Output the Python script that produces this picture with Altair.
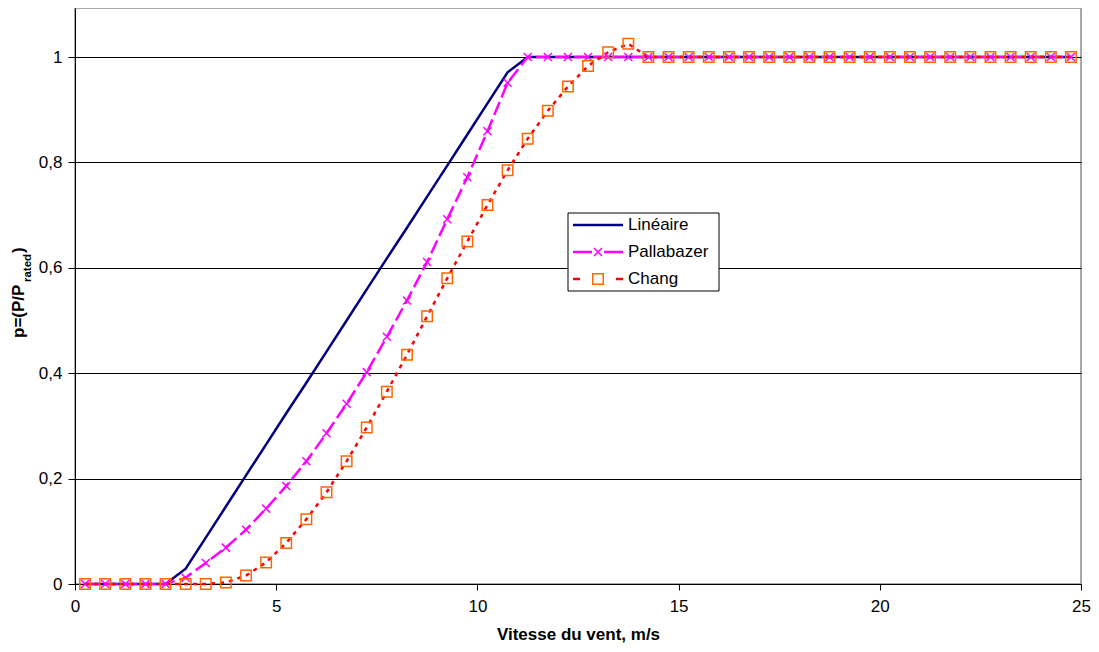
import altair as alt
import pandas as pd

FONT = "Liberation Sans"

# ---------------- data ----------------
wind = [0.25, 0.75, 1.25, 1.75, 2.25, 2.75, 3.25, 3.75, 4.25, 4.75,
        5.25, 5.75, 6.25, 6.75, 7.25, 7.75, 8.25, 8.75, 9.25, 9.75,
        10.25, 10.75, 11.25, 11.75, 12.25, 12.75, 13.25, 13.75, 14.25, 14.75,
        15.25, 15.75, 16.25, 16.75, 17.25, 17.75, 18.25, 18.75, 19.25, 19.75,
        20.25, 20.75, 21.25, 21.75, 22.25, 22.75, 23.25, 23.75, 24.25, 24.75]

lineaire = [0, 0, 0, 0, 0, 0.029, 0.088, 0.147, 0.206, 0.265,
            0.324, 0.382, 0.441, 0.500, 0.559, 0.618, 0.676, 0.735, 0.794, 0.853,
            0.912, 0.971, 1, 1, 1, 1, 1, 1, 1, 1,
            1, 1, 1, 1, 1, 1, 1, 1, 1, 1,
            1, 1, 1, 1, 1, 1, 1, 1, 1, 1]

pallabazer = [0, 0, 0, 0, 0, 0.012, 0.040, 0.069, 0.103, 0.143,
              0.186, 0.233, 0.286, 0.342, 0.402, 0.469, 0.538, 0.611, 0.692, 0.772,
              0.859, 0.951, 1, 1, 1, 1, 1, 1, 1, 1,
              1, 1, 1, 1, 1, 1, 1, 1, 1, 1,
              1, 1, 1, 1, 1, 1, 1, 1, 1, 1]

chang = [0, 0, 0, 0, 0, 0, 0, 0.003, 0.016, 0.041,
         0.078, 0.123, 0.174, 0.233, 0.297, 0.365, 0.435, 0.508, 0.580, 0.650,
         0.719, 0.785, 0.845, 0.898, 0.944, 0.983, 1.009, 1.025, 1, 1,
         1, 1, 1, 1, 1, 1, 1, 1, 1, 1,
         1, 1, 1, 1, 1, 1, 1, 1, 1, 1]

series_names = ["Linéaire", "Pallabazer", "Chang"]
x_ticks = [0, 5, 10, 15, 20, 25]
y_ticks = [0, 0.2, 0.4, 0.6, 0.8, 1]
x_title = "Vitesse du vent, m/s"
y_title_parts = ["p=(P/P", "rated", ")"]

df = pd.DataFrame({
    "v": wind * 3,
    "p": lineaire + pallabazer + chang,
    "s": [n for n in series_names for _ in wind],
})
one = pd.DataFrame({"k": [0]})

NAVY = "#000080"
MAGENTA = "#FF00FF"
RED = "#FF0000"
ORANGE = "#FF6600"

W, H = 1006, 576
PAD_L = 67

xs = alt.Scale(domain=[0, 25], nice=False, zero=False)
ys = alt.Scale(domain=[0, 1.093], nice=False)

base = alt.Chart(df).encode(
    x=alt.X("v:Q", scale=xs, axis=alt.Axis(
        values=x_ticks, title=x_title, grid=False, tickSize=6, labelPadding=8,
        labelFlush=False, labelOverlap=False, titlePadding=12,
        titleFontSize=17, titleFontWeight="bold", labelFontSize=17)),
    y=alt.Y("p:Q", scale=ys, axis=alt.Axis(
        values=y_ticks, title=None, grid=True, gridColor="black", gridWidth=1,
        tickSize=7, labelPadding=6, labelFlush=False, labelOverlap=False,
        labelFontSize=17,
        labelExpr="replace(format(datum.value, '~g'), '.', ',')")),
)

lin_line = base.transform_filter(alt.datum.s == series_names[0]).mark_line(
    color=NAVY, strokeWidth=2.5)
pal_line = base.transform_filter(alt.datum.s == series_names[1]).mark_line(
    color=MAGENTA, strokeWidth=2.5, strokeDash=[14, 5])
chang_line = base.transform_filter(alt.datum.s == series_names[2]).mark_line(
    color=RED, strokeWidth=2.5, strokeDash=[4, 5])
XSHAPE = "M-1,-1L1,1M-1,1L1,-1"
pal_pts = base.transform_filter(alt.datum.s == series_names[1]).mark_point(
    shape=XSHAPE, size=64, color=MAGENTA, filled=False, strokeWidth=1.5, opacity=1)
chang_pts = base.transform_filter(alt.datum.s == series_names[2]).mark_point(
    shape="square", size=110, color=ORANGE, filled=False, strokeWidth=1.5, opacity=1)

# ---------------- legend (manual) ----------------
DX = 77 - 8 - PAD_L  # keep legend at the same page position


def rule(x1, x2, y, color):
    return alt.Chart(one).mark_rule(color=color, strokeWidth=2.5).encode(
        x=alt.value(x1 + DX), x2=alt.value(x2 + DX), y=alt.value(y))


def label(txt, y):
    return alt.Chart(one).mark_text(
        text=txt, align="left", baseline="middle", fontSize=17, font=FONT,
        color="black").encode(x=alt.value(551 + DX), y=alt.value(y))


box = alt.Chart(one).mark_rect(fill="white", stroke="black", strokeWidth=1).encode(
    x=alt.value(491 + DX), x2=alt.value(642 + DX), y=alt.value(205), y2=alt.value(283))

ly = [217, 244, 271]
leg = [
    box,
    rule(496, 546, ly[0], NAVY),
    label(series_names[0], ly[0]),
    rule(496, 515, ly[1], MAGENTA),
    rule(527, 546, ly[1], MAGENTA),
    alt.Chart(one).mark_point(shape=XSHAPE, size=64, color=MAGENTA, filled=False,
                              strokeWidth=1.5, opacity=1).encode(
        x=alt.value(521 + DX), y=alt.value(ly[1])),
    label(series_names[1], ly[1]),
    rule(496, 503, ly[2], RED),
    rule(539, 546, ly[2], RED),
    alt.Chart(one).mark_point(shape="square", size=110, color=ORANGE, filled=False,
                              strokeWidth=1.5, opacity=1).encode(
        x=alt.value(521 + DX), y=alt.value(ly[2])),
    label(series_names[2], ly[2]),
]

# ---------------- y title with subscript ----------------
def ytext(txt, x, y, size):
    return alt.Chart(one).mark_text(
        text=txt, angle=270, align="left", baseline="alphabetic", fontSize=size,
        fontWeight="bold", font=FONT, color="black").encode(
        x=alt.value(x + DX), y=alt.value(y))


ytitle = [
    ytext(y_title_parts[0], -53.5, 330, 17),
    ytext(y_title_parts[1], -46, 274, 11.5),
    ytext(y_title_parts[2], -53.5, 245, 17),
]

chart = alt.layer(
    lin_line, pal_line, chang_line, pal_pts, chang_pts, *leg, *ytitle
).properties(
    width=W, height=H,
    autosize=alt.AutoSizeParams(type="none"),
    padding={"left": PAD_L, "top": 0, "right": 10, "bottom": 60},
).configure_view(
    stroke="#8c8c8c", strokeWidth=1.5
).configure_axis(
    labelFont=FONT, titleFont=FONT, labelColor="black", titleColor="black",
    domainColor="black", domainWidth=1, tickColor="black", tickWidth=1,
)

chart.save("out.html", embed_options={"renderer": "svg", "actions": False})
